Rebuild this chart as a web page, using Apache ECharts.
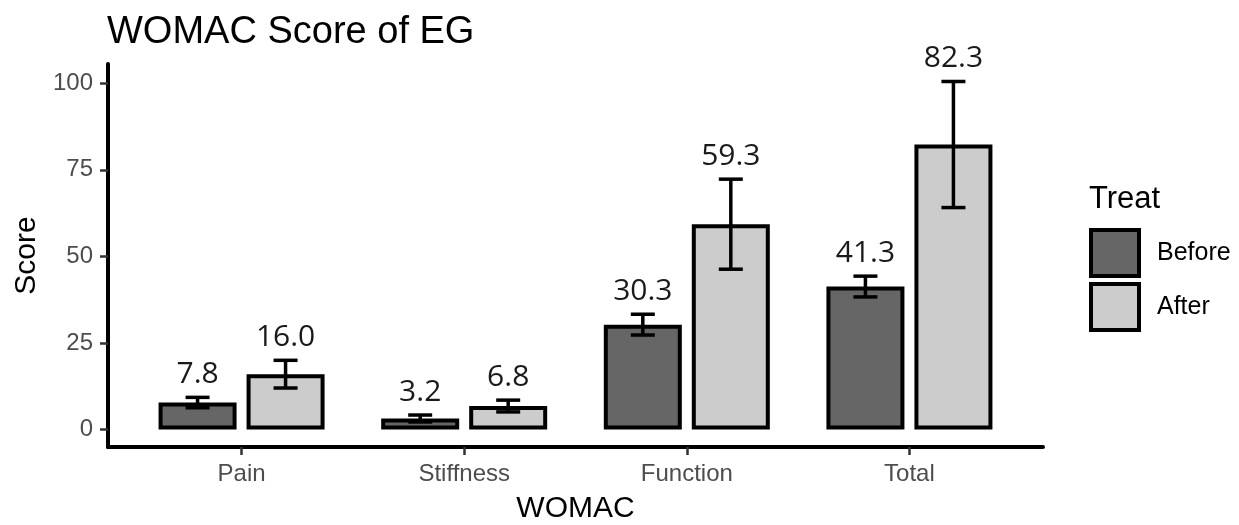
<!DOCTYPE html>
<html>
<head>
<meta charset="utf-8">
<script src="https://cdn.jsdelivr.net/npm/echarts@6/dist/echarts.min.js"></script>
<style>
  html, body { margin: 0; padding: 0; background: #ffffff; }
  #chart { width: 1239px; height: 525px; }
</style>
</head>
<body>
<div id="chart"></div>
<script>
// WOMAC subscale scores, before and after treatment (mean and SD)
const categories = ['Pain', 'Stiffness', 'Function', 'Total'];
const beforeMean = [7.8, 3.2, 30.3, 41.3];
const afterMean  = [16.0, 6.8, 59.3, 82.3];
const beforeSd   = [1.5, 1.0, 3.0, 3.0];
const afterSd    = [4.0, 1.7, 13.0, 18.2];
const yTicks     = [0, 25, 50, 75, 100];

// Category positions on the x scale (1..n)
const catPos = categories.map((c, i) => i + 1);

const BAR_W = 78;      // bar width in px
const BAR_GAP = 10;    // gap between the two bars of a group in px
const CAP_HALF = 12;   // half width of error-bar caps
const LABEL_LIFT = 23; // distance from the upper cap to the value label centre
const centerShift = (BAR_W + BAR_GAP) / 2;

const LABEL_FONT = 'Liberation Sans, Arial, sans-serif';

function errorBars(name, means, sds, side) {
  return {
    type: 'custom',
    name: name + ' SD',
    silent: true,
    z: 5,
    data: means.map((m, i) => [catPos[i], m, m - sds[i], m + sds[i]]),
    encode: { x: 0, y: [2, 3] },
    renderItem: function (params, api) {
      const x = api.value(0);
      const m = api.value(1);
      const lo = api.coord([x, api.value(2)]);
      const hi = api.coord([x, api.value(3)]);
      const cx = lo[0] + side * centerShift;
      const st = { stroke: '#000000', lineWidth: 3.5 };
      return {
        type: 'group',
        children: [
          { type: 'line', shape: { x1: cx, y1: lo[1], x2: cx, y2: hi[1] }, style: st },
          { type: 'line', shape: { x1: cx - CAP_HALF, y1: lo[1], x2: cx + CAP_HALF, y2: lo[1] }, style: st },
          { type: 'line', shape: { x1: cx - CAP_HALF, y1: hi[1], x2: cx + CAP_HALF, y2: hi[1] }, style: st },
          {
            type: 'text',
            x: cx,
            y: hi[1] - LABEL_LIFT,
            style: {
              text: m.toFixed(1),
              fill: '#1a1a1a',
              font: '30px "Open Sans", "Noto Sans", sans-serif',
              textAlign: 'center',
              textVerticalAlign: 'middle'
            }
          }
        ]
      };
    }
  };
}

const chart = echarts.init(document.getElementById('chart'), null, { renderer: 'canvas' });

chart.setOption({
  animation: false,
  backgroundColor: '#ffffff',
  title: [
    {
      text: 'WOMAC Score of EG',
      left: 107,
      top: 14,
      padding: 0,
      textStyle: { fontFamily: LABEL_FONT, fontSize: 38, fontWeight: 'normal', color: '#000000' }
    },
    {
      text: 'Treat',
      left: 1089,
      top: 184,
      padding: 0,
      textStyle: { fontFamily: LABEL_FONT, fontSize: 31, fontWeight: 'normal', color: '#000000' }
    }
  ],
  legend: {
    data: ['Before', 'After'],
    orient: 'vertical',
    left: 1089,
    top: 228,
    padding: 0,
    icon: 'rect',
    itemWidth: 48,
    itemHeight: 46,
    itemGap: 4,
    itemStyle: { borderColor: '#000000', borderWidth: 4 },
    textStyle: { fontFamily: LABEL_FONT, fontSize: 25, color: '#000000', padding: [0, 0, 0, 13] },
    selectedMode: false
  },
  grid: { left: 108, right: 196, top: 64, bottom: 78, containLabel: false, outerBoundsMode: 'none' },
  xAxis: {
    type: 'value',
    min: 0.4,
    max: 4.6,
    name: 'WOMAC',
    nameLocation: 'middle',
    nameGap: 47,
    nameTextStyle: { fontFamily: LABEL_FONT, fontSize: 30, color: '#000000' },
    splitLine: { show: false },
    axisLine: { show: true, onZero: false, lineStyle: { color: '#000000', width: 4 } },
    axisTick: { show: true, length: 8, customValues: catPos, lineStyle: { color: '#333333', width: 2.5 } },
    axisLabel: {
      customValues: catPos,
      margin: 15,
      fontFamily: LABEL_FONT,
      fontSize: 24,
      color: '#4d4d4d',
      formatter: function (v) { return categories[Math.round(v) - 1]; }
    }
  },
  yAxis: {
    type: 'value',
    min: -5.03,
    max: 105.55,
    name: 'Score',
    nameLocation: 'middle',
    nameGap: 64,
    nameRotate: 90,
    nameTextStyle: { fontFamily: LABEL_FONT, fontSize: 30, color: '#000000' },
    splitLine: { show: false },
    axisLine: { show: true, onZero: false, lineStyle: { color: '#000000', width: 4 } },
    axisTick: { show: true, length: 8, customValues: yTicks, lineStyle: { color: '#333333', width: 2.5 } },
    axisLabel: {
      customValues: yTicks,
      margin: 15,
      fontFamily: LABEL_FONT,
      fontSize: 24,
      color: '#4d4d4d'
    }
  },
  series: [
    {
      name: 'Before',
      type: 'bar',
      data: beforeMean.map((v, i) => [catPos[i], v]),
      barWidth: BAR_W,
      barGap: (BAR_GAP / BAR_W * 100) + '%',
      itemStyle: { color: '#666666', borderColor: '#000000', borderWidth: 4 }
    },
    {
      name: 'After',
      type: 'bar',
      data: afterMean.map((v, i) => [catPos[i], v]),
      barWidth: BAR_W,
      barGap: (BAR_GAP / BAR_W * 100) + '%',
      itemStyle: { color: '#cccccc', borderColor: '#000000', borderWidth: 4 }
    },
    errorBars('Before', beforeMean, beforeSd, -1),
    errorBars('After', afterMean, afterSd, 1)
  ]
});
</script>
</body>
</html>
